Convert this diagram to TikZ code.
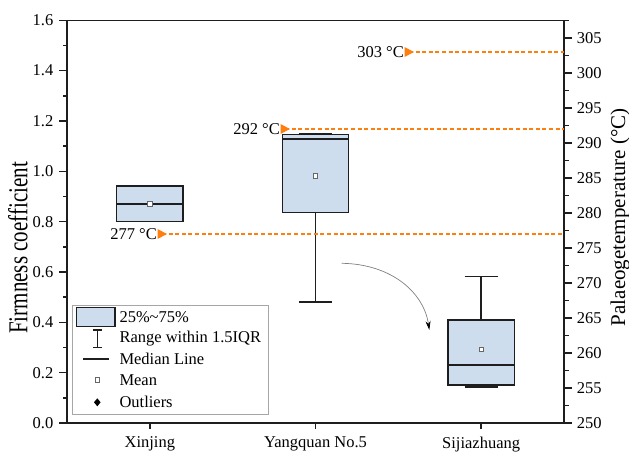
\documentclass[tikz,border=0pt]{standalone}
\usepackage{fontspec}
\setmainfont{Liberation Serif}
\usepackage{tikz}
\usetikzlibrary{positioning,arrows.meta}

\definecolor{boxblue}{RGB}{206,221,238}
\definecolor{tempc}{RGB}{255,127,14}
\definecolor{axisc}{RGB}{30,30,30}

\begin{document}
\begin{tikzpicture}[x=1pt,y=1pt,>=stealth,
    every node/.style={font=\fontsize{16.5}{19}\selectfont},
    axisline/.style={line width=1.5pt,draw=axisc},
    boxfill/.style={line width=1.5pt,draw=axisc,fill=boxblue},
    whisk/.style={line width=1.5pt,draw=axisc},
    medline/.style={line width=1.8pt,draw=axisc},
    meanmark/.style={draw=gray!80!black,fill=white,line width=0.6pt,minimum size=4.5pt,inner sep=0pt},
    templine/.style={line width=1.8pt,draw=tempc,dash pattern=on 4pt off 2.6pt},
    titlefont/.style={font=\fontsize{21}{24}\selectfont}]
    \useasboundingbox (0,0) rectangle (629,455);

    % Firmness axis and boxes
    \begin{scope}[shift={(67,32)},x=165.67pt,y=251.7pt]
        \draw[axisline] (0,0) rectangle (3,1.6);
        \foreach \v/\lab in {0/0.0,0.2/0.2,0.4/0.4,0.6/0.6,0.8/0.8,1.0/1.0,1.2/1.2,1.4/1.4,1.6/1.6}
            \draw[axisline] (0,\v) -- ++(-8pt,0) node[left,inner sep=5pt] {\lab};
        \foreach \v in {0.1,0.3,...,1.5}
            \draw[axisline] (0,\v) -- ++(-4.5pt,0);
        \foreach \c/\lab in {0.5/Xinjing,1.5/Yangquan No.5,2.5/Sijiazhuang}
            \draw[axisline] (\c,0) -- ++(0,-6pt) node[below,inner sep=7pt] {\lab};

        % Xinjing
        \draw[boxfill] (0.3,0.801) rectangle (0.7,0.942);
        \draw[medline] (0.3,0.871) -- (0.7,0.871);
        \node[meanmark] (mean1) at (0.5,0.871) {};

        % Yangquan No.5
        \draw[whisk] (1.5,0.837) -- (1.5,0.481);
        \draw[whisk] (1.4,0.481) -- (1.6,0.481);
        \draw[boxfill] (1.3,0.837) rectangle (1.7,1.147);
        \draw[whisk] (1.4,1.151) -- (1.6,1.151);
        \draw[medline] (1.3,1.127) -- (1.7,1.127);
        \node[meanmark] (mean2) at (1.5,0.982) {};

        % Sijiazhuang
        \draw[whisk] (2.5,0.410) -- (2.5,0.583);
        \draw[whisk] (2.4,0.583) -- (2.6,0.583);
        \draw[whisk] (2.4,0.143) -- (2.6,0.143);
        \draw[boxfill] (2.3,0.151) rectangle (2.7,0.410);
        \draw[medline] (2.3,0.230) -- (2.7,0.230);
        \node[meanmark] (mean3) at (2.5,0.293) {};
    \end{scope}
    \node[titlefont,rotate=90,yscale=1.3] (ytitle) at (18,207) {Firmness coefficient};

    % Palaeotemperature axis
    \begin{scope}[shift={(0,-1718)},y=7pt]
        \coordinate (raxis) at (564,250);
        \foreach \t in {250,255,...,305}
            \draw[axisline] (564,\t) -- ++(8pt,0) node[right,inner sep=4pt] {\t};
        \foreach \t in {252.5,257.5,...,307.5}
            \draw[axisline] (564,\t) -- ++(4.5pt,0);
        \node[titlefont,rotate=90] (rtitle) at (620,279.4) {Palaeogetemperature (°C)};

        % temperature markers
        \foreach \t/\mx in {303/409,292/285,277/162}{
            \coordinate (m\t) at (\mx,\t);
            \draw[templine] (m\t) -- (m\t -| raxis);
            \fill[tempc] (m\t) ++(-4.5pt,5pt) -- ++(9.5pt,-5pt) -- ++(-9.5pt,-5pt) -- cycle;
            \node[left=5pt of m\t,inner sep=0pt] (l\t) {\t\ °C};
        }
    \end{scope}

    % curved arrow
    \coordinate (arrs) at (341.7,191.7);
    \coordinate (arre) at (429.3,125);
    \draw[gray,line width=0.7pt,-{Stealth[black,length=9pt,width=5pt]}] (arrs) .. controls (392,191) and (424,162) .. (arre);

    % Legend
    \draw[gray!70,line width=0.8pt] (72.7,41) rectangle (268.3,150);
    \draw[boxfill] (76.7,128.3) rectangle (115,147.3);
    \node[anchor=west,inner sep=0pt] (leg1) at (119.3,137.7) {25\%\textasciitilde75\%};
    \draw[whisk] (97.3,125) -- (97.3,107.7);
    \draw[whisk] (92.8,125) -- (101.8,125);
    \draw[whisk] (92.8,107.7) -- (101.8,107.7);
    \node[anchor=west,inner sep=0pt] (leg2) at (119.3,116.2) {Range within 1.5IQR};
    \draw[medline] (83.3,96.3) -- (109,96.3);
    \node[anchor=west,inner sep=0pt] (leg3) at (119.3,95.8) {Median Line};
    \node[meanmark] (legmean) at (97.3,75) {};
    \node[anchor=west,inner sep=0pt] (leg4) at (119.3,74.6) {Mean};
    \fill[black] (97.3,52.7) ++(0,4pt) -- ++(3.3pt,-4pt) -- ++(-3.3pt,-4pt) -- ++(-3.3pt,4pt) -- cycle;
    \node[anchor=west,inner sep=0pt] (leg5) at (119.3,53.2) {Outliers};
\end{tikzpicture}
\end{document}
